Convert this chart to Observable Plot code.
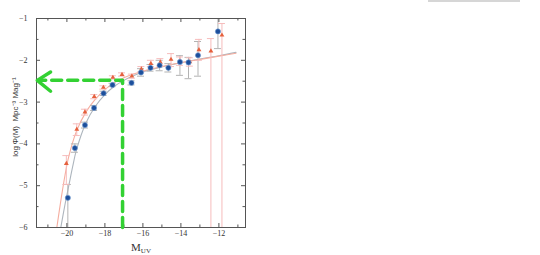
<!DOCTYPE html>
<html><head><meta charset="utf-8">
<script src="https://cdn.jsdelivr.net/npm/d3@7"></script>
<script src="https://cdn.jsdelivr.net/npm/@observablehq/plot@0.6"></script>
<style>
body{margin:0;background:#fff;}
#chart{position:relative;width:540px;height:255px;}
#topline{position:absolute;left:428px;top:0;width:92px;height:2px;background:#d6d6d6;}
</style>
</head><body><div id="chart"><div id="topline"></div></div>
<script>
// Data
const blueX  = [-19.95,-19.58,-19.05,-18.57,-18.07,-17.6,-16.6,-16.1,-15.6,-15.12,-14.66,-14.05,-13.6,-13.1,-12.05];
const blueY  = [-5.29,-4.10,-3.55,-3.14,-2.79,-2.59,-2.54,-2.29,-2.18,-2.12,-2.18,-2.04,-2.05,-1.88,-1.31];
const blueHi = [-4.97,-4.00,-3.48,-3.08,-2.74,-2.55,-2.49,-2.20,-2.10,-2.00,-2.08,-1.89,-1.93,-1.55,-1.00];
const blueLo = [-6.50,-4.20,-3.62,-3.20,-2.84,-2.63,-2.59,-2.38,-2.26,-2.25,-2.28,-2.36,-2.44,-2.38,-1.72];

const redX  = [-20.03,-19.48,-19.05,-18.56,-18.08,-17.58,-17.1,-16.58,-16.08,-15.58,-15.08,-14.52,-14.05,-13.53,-13.05,-12.42,-11.84];
const redY  = [-4.47,-3.65,-3.24,-2.87,-2.65,-2.41,-2.34,-2.38,-2.21,-2.08,-2.05,-1.98,-2.02,-2.04,-1.75,-1.78,-1.40];
const redHi = [-4.28,-3.52,-3.17,-2.82,-2.61,-2.37,-2.30,-2.33,-2.15,-2.00,-1.96,-1.84,-1.92,-1.94,-1.50,-1.48,-1.12];
const redLo = [-4.97,-3.80,-3.31,-2.92,-2.69,-2.45,-2.38,-2.43,-2.27,-2.15,-2.14,-2.15,-2.12,-2.14,-2.00,-6.50,-6.50];

// Fit curves
const greyCurveX = [-20.32,-20.1,-19.9,-19.7,-19.5,-19.0,-18.5,-18.0,-17.5,-17.0,-16.5,-16.0,-15.0,-14.0,-13.0,-12.0,-11.1];
const greyCurveY = [-6.0,-5.45,-5.0,-4.55,-4.15,-3.5,-3.1,-2.82,-2.62,-2.48,-2.37,-2.28,-2.16,-2.06,-1.97,-1.89,-1.81];
const redCurveX  = [-20.53,-20.3,-20.1,-19.9,-19.5,-19.0,-18.5,-18.0,-17.5,-17.0,-16.5,-16.0,-15.0,-14.0,-13.0,-12.0,-11.1];
const redCurveY  = [-6.0,-5.3,-4.75,-4.3,-3.7,-3.24,-2.93,-2.7,-2.53,-2.42,-2.33,-2.26,-2.15,-2.06,-1.98,-1.9,-1.83];

// Green hand-drawn annotation
const guideX = [-17.07,-17.07,-21.45];
const guideY = [-6.0,-2.48,-2.48];
const arrowX = [-20.86,-21.56,-20.86];
const arrowY = [-2.28,-2.48,-2.74];

// Ticks
const xMajor = [-20,-18,-16,-14,-12];
const xMinor = [-21,-19,-17,-15,-13,-11];
const yMajor = [-6,-5,-4,-3,-2,-1];
const yMinor = [-5.5,-4.5,-3.5,-2.5,-1.5];
const xDomain = [-21.6, -10.6];
const yDomain = [-6, -1];

const blue = blueX.map((x,i)=>({x, y: blueY[i], hi: blueHi[i], lo: blueLo[i]}));
const red  = redX.map((x,i)=>({x, y: redY[i], hi: redHi[i], lo: redLo[i]}));
const greyCurve = greyCurveX.map((x,i)=>({x, y: greyCurveY[i]}));
const redCurve  = redCurveX.map((x,i)=>({x, y: redCurveY[i]}));
const guide = guideX.map((x,i)=>({x, y: guideY[i]}));
const arrow = arrowX.map((x,i)=>({x, y: arrowY[i]}));

const axisColor = "#555";
// inward tick lengths in data units (px / px-per-unit)
const pxX = 209 / (xDomain[1] - xDomain[0]);
const pxY = 209 / (yDomain[1] - yDomain[0]);
const xTicks = (vals, len) => [
  Plot.ruleX(vals, {x: d => d, y1: yDomain[0], y2: yDomain[0] + len / pxY, stroke: axisColor}),
  Plot.ruleX(vals, {x: d => d, y1: yDomain[1], y2: yDomain[1] - len / pxY, stroke: axisColor})
];
const yTicks = (vals, len) => [
  Plot.ruleY(vals, {y: d => d, x1: xDomain[0], x2: xDomain[0] + len / pxX, stroke: axisColor}),
  Plot.ruleY(vals, {y: d => d, x1: xDomain[1], x2: xDomain[1] - len / pxX, stroke: axisColor})
];
const fmt = d3.format("~f");
const errGrey = "#b3b3b3", errRed = "#f6bcbc";

const svg = Plot.plot({
  width: 540, height: 255,
  marginLeft: 36, marginRight: 295, marginTop: 18, marginBottom: 28,
  style: {fontFamily: "Liberation Serif", fontSize: "8px", background: "white", color: "#333"},
  x: {domain: xDomain},
  y: {domain: yDomain},
  marks: [
    Plot.line(greyCurve, {x: "x", y: "y", stroke: "#adb5bd", strokeWidth: 1.1, curve: "catmull-rom", clip: true}),
    Plot.line(redCurve, {x: "x", y: "y", stroke: "#f5ad9f", strokeWidth: 1.1, curve: "catmull-rom", clip: true}),
    Plot.ruleX(blue, {x: "x", y1: "lo", y2: "hi", stroke: errGrey, strokeWidth: 1, clip: true}),
    Plot.ruleY(blue, {y: "hi", x1: "x", x2: "x", insetLeft: -3.5, insetRight: -3.5, stroke: errGrey, clip: true}),
    Plot.ruleY(blue, {y: "lo", x1: "x", x2: "x", insetLeft: -3.5, insetRight: -3.5, stroke: errGrey, clip: true}),
    Plot.ruleX(red, {x: "x", y1: "lo", y2: "hi", stroke: errRed, strokeWidth: 1, clip: true}),
    Plot.ruleY(red, {y: "hi", x1: "x", x2: "x", insetLeft: -3.5, insetRight: -3.5, stroke: errRed, clip: true}),
    Plot.ruleY(red, {y: "lo", x1: "x", x2: "x", insetLeft: -3.5, insetRight: -3.5, stroke: errRed, clip: true}),
    Plot.dot(red, {x: "x", y: "y", symbol: "triangle", r: 1.8, fill: "#e5603d"}),
    Plot.dot(blue, {x: "x", y: "y", r: 2.6, fill: "#1d4f9b", stroke: "#7aa3d6", strokeWidth: 0.6}),
    Plot.frame({stroke: axisColor}),
    ...xTicks(xMajor, 4), ...xTicks(xMinor, 2.5),
    ...yTicks(yMajor, 4), ...yTicks(yMinor, 2.5),
    Plot.axisX({anchor: "bottom", ticks: xMajor, tickSize: 0, tickPadding: 3, tickFormat: fmt, label: null}),
    Plot.axisY({anchor: "left", ticks: yMajor, tickSize: 0, tickPadding: 9, tickFormat: fmt, label: null}),
    Plot.text(["MUV"], {frameAnchor: "bottom", dy: 23, fontSize: 11, text: d => d}),
    Plot.text(["log\u2009\u03A6(M)  Mpc\u207B\u00B3 Mag\u207B\u00B9"], {frameAnchor: "left", textAnchor: "middle", dx: -21, dy: -6, rotate: -90, fontSize: 8, fontFamily: "Liberation Sans", fill: "#333", text: d => d}),
    Plot.line(guide, {x: "x", y: "y", stroke: "#33d133", strokeWidth: 3.5, strokeDasharray: "10,6"}),
    Plot.line(arrow, {x: "x", y: "y", stroke: "#33d133", strokeWidth: 3.5, strokeLinecap: "round"})
  ]
});
document.getElementById("chart").appendChild(svg);
// subscript for M_UV
d3.select(svg).selectAll("text").filter(function() { return this.textContent === "MUV"; }).each(function() {
  const t = d3.select(this);
  t.text(null);
  t.append("tspan").text("M");
  t.append("tspan").attr("font-size", 7).attr("dy", 2).text("UV");
});
</script>
</body></html>
